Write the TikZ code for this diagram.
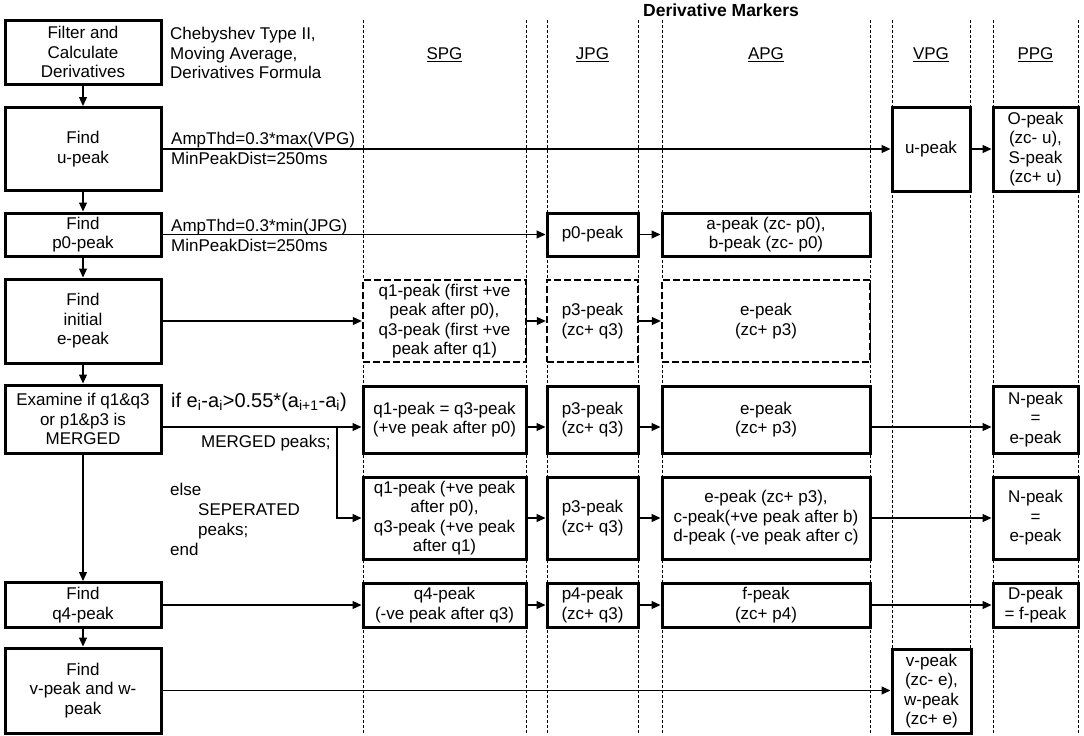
\documentclass[tikz,border=0pt]{standalone}
\usepackage{fontspec}
\setmainfont{Liberation Sans}
\usetikzlibrary{arrows.meta}
\begin{document}
\begin{tikzpicture}[x=1pt,y=-1pt,
  every node/.style={font=\fontsize{17}{19.5}\selectfont, inner sep=1pt},
  box/.style={draw, line width=3pt, fill=white, align=center},
  dbox/.style={box, dash pattern=on 7pt off 3pt, line width=2.4pt},
  arr/.style={-{Triangle[length=9pt,width=8pt]}, line width=1.1pt},
  col/.style={line width=1pt, dash pattern=on 3pt off 2pt},
  lbl/.style={anchor=base west, align=left},
  hdr/.style={font=\fontsize{17}{19.5}\selectfont},
]
\fill[white] (0,0) rectangle (1084,736);
\useasboundingbox (0,0) rectangle (1084,736);

% column guide lines
\foreach \x in {363,526,547,638,662,870,892,970,993,1078}
  \draw[col] (\x,20) -- (\x,733);

% title and column headers
\node[font=\bfseries\fontsize{17.5}{19.5}\selectfont] (title) at (721,10) {Derivative Markers};
\node[hdr] (hS) at (444.5,55) {\underline{SPG}};
\node[hdr] (hJ) at (592.5,55) {\underline{JPG}};
\node[hdr] (hA) at (766,55) {\underline{APG}};
\node[hdr] (hV) at (931,55) {\underline{VPG}};
\node[hdr] (hP) at (1035.5,55) {\underline{PPG}};

% left process column
\node[box, minimum width=156pt, minimum height=64pt] (L1) at (83,52) {Filter and\\Calculate\\Derivatives};
\node[box, minimum width=156pt, minimum height=83pt] (L2) at (83,149) {Find\\u-peak};
\node[box, minimum width=156pt, minimum height=43pt] (L3) at (83,234.5) {Find\\p0-peak};
\node[box, minimum width=156pt, minimum height=84pt] (L4) at (83,321) {Find\\initial\\e-peak};
\node[box, minimum width=156pt, minimum height=68pt] (L5) at (83,419) {Examine if q1\&q3\\or p1\&p3 is\\MERGED};
\node[box, minimum width=156pt, minimum height=45pt] (L6) at (83,605) {Find\\q4-peak};
\node[box, minimum width=156pt, minimum height=85pt] (L7) at (83,690.5) {Find\\v-peak and w-\\peak};

\draw[arr] (L1) -- (L2);
\draw[arr] (L2) -- (L3);
\draw[arr] (L3) -- (L4);
\draw[arr] (L4) -- (L5);
\draw[arr] (L5) -- (L6);
\draw[arr] (L6) -- (L7);

% row: u-peak
\node[box, minimum width=78pt, minimum height=84pt] (Vu) at (931,149) {u-peak};
\node[box, minimum width=85pt, minimum height=84pt] (Pu) at (1035.5,149) {O-peak\\(zc- u),\\S-peak\\(zc+ u)};

% row: p0-peak
\node[box, minimum width=91pt, minimum height=43pt] (Jp) at (592.5,234.5) {p0-peak};
\node[box, minimum width=208pt, minimum height=43pt] (Ap) at (766,234.5) {a-peak (zc- p0),\\b-peak (zc- p0)};

% row: initial e-peak (dashed)
\node[dbox, minimum width=163pt, minimum height=82pt] (Se) at (444.5,321) {q1-peak (first +ve\\peak after p0),\\q3-peak (first +ve\\peak after q1)};
\node[dbox, minimum width=91pt, minimum height=82pt] (Je) at (592.5,321) {p3-peak\\(zc+ q3)};
\node[dbox, minimum width=208pt, minimum height=82pt] (Ae) at (766,321) {e-peak\\(zc+ p3)};

% row: merged
\node[box, minimum width=163pt, minimum height=67pt] (Sm) at (444.5,419.5) {q1-peak = q3-peak\\(+ve peak after p0)};
\node[box, minimum width=91pt, minimum height=67pt] (Jm) at (592.5,419.5) {p3-peak\\(zc+ q3)};
\node[box, minimum width=208pt, minimum height=67pt] (Am) at (766,419.5) {e-peak\\(zc+ p3)};
\node[box, minimum width=85pt, minimum height=67pt] (Pm) at (1035.5,419.5) {N-peak\\=\\e-peak};

% row: separated
\node[box, minimum width=163pt, minimum height=82pt] (Ss) at (444.5,518) {q1-peak (+ve peak\\after p0),\\q3-peak (+ve peak\\after q1)};
\node[box, minimum width=91pt, minimum height=82pt] (Js) at (592.5,518) {p3-peak\\(zc+ q3)};
\node[box, minimum width=208pt, minimum height=82pt] (As) at (766,518) {e-peak (zc+ p3),\\c-peak(+ve peak after b)\\d-peak (-ve peak after c)};
\node[box, minimum width=85pt, minimum height=82pt] (Ps) at (1035.5,518) {N-peak\\=\\e-peak};

% row: q4
\node[box, minimum width=163pt, minimum height=44pt] (Sq) at (444.5,605) {q4-peak\\(-ve peak after q3)};
\node[box, minimum width=91pt, minimum height=44pt] (Jq) at (592.5,605) {p4-peak\\(zc+ q3)};
\node[box, minimum width=208pt, minimum height=44pt] (Aq) at (766,605) {f-peak\\(zc+ p4)};
\node[box, minimum width=85pt, minimum height=44pt] (Pq) at (1035.5,605) {D-peak\\= f-peak};

% row: v/w
\node[box, minimum width=79pt, minimum height=84pt] (Vv) at (931.5,691) {v-peak\\(zc- e),\\w-peak\\(zc+ e)};

% horizontal connectors
\draw[arr] (L2.east) -- (L2.east -| Vu.west);
\draw[arr] (Vu.east) -- (Vu.east -| Pu.west);
\draw[arr] (L3.east) -- (L3.east -| Jp.west);
\draw[arr] (Jp) -- (Ap);
\draw[arr] (L4) -- (Se);
\draw[arr] (Se) -- (Je);
\draw[arr] (Je) -- (Ae);
\coordinate (my) at (0,427);
\coordinate (br) at (337,427);
\draw[arr] (L5.east |- my) -- (Sm.west |- my);
\draw[arr] (br) |- (Ss.west);
\draw[arr] (Sm.east |- my) -- (Jm.west |- my);
\draw[arr] (Jm.east |- my) -- (Am.west |- my);
\draw[arr] (Am.east |- my) -- (Pm.west |- my);
\draw[arr] (Ss) -- (Js);
\draw[arr] (Js) -- (As);
\draw[arr] (As) -- (Ps);
\draw[arr] (L6.east) -- (L6.east -| Sq.west);
\draw[arr] (Sq) -- (Jq);
\draw[arr] (Jq) -- (Aq);
\draw[arr] (Aq) -- (Pq);
\draw[arr] (L7.east) -- (L7.east -| Vv.west);

% annotations
\node[anchor=west, align=left] (cheb) at (169,53) {Chebyshev Type II,\\Moving Average,\\Derivatives Formula};
\node[lbl] (amp1) at (170,144) {AmpThd=0.3*max(VPG)};
\node[lbl] (mpd1) at (170,164) {MinPeakDist=250ms};
\node[lbl] (amp2) at (170,231) {AmpThd=0.3*min(JPG)};
\node[lbl] (mpd2) at (170,251) {MinPeakDist=250ms};
\node[lbl, font=\fontsize{20}{23}\selectfont] (cond) at (170,407) {if e\textsubscript{i}-a\textsubscript{i}>0.55*(a\textsubscript{i+1}-a\textsubscript{i})};
\node[lbl] (mrg) at (200,447) {MERGED peaks;};
\node[anchor=west, align=left, font=\fontsize{17}{20}\selectfont] (els) at (169,519) {else\\\hspace*{28pt}SEPERATED\\\hspace*{28pt}peaks;\\end};
\end{tikzpicture}
\end{document}
